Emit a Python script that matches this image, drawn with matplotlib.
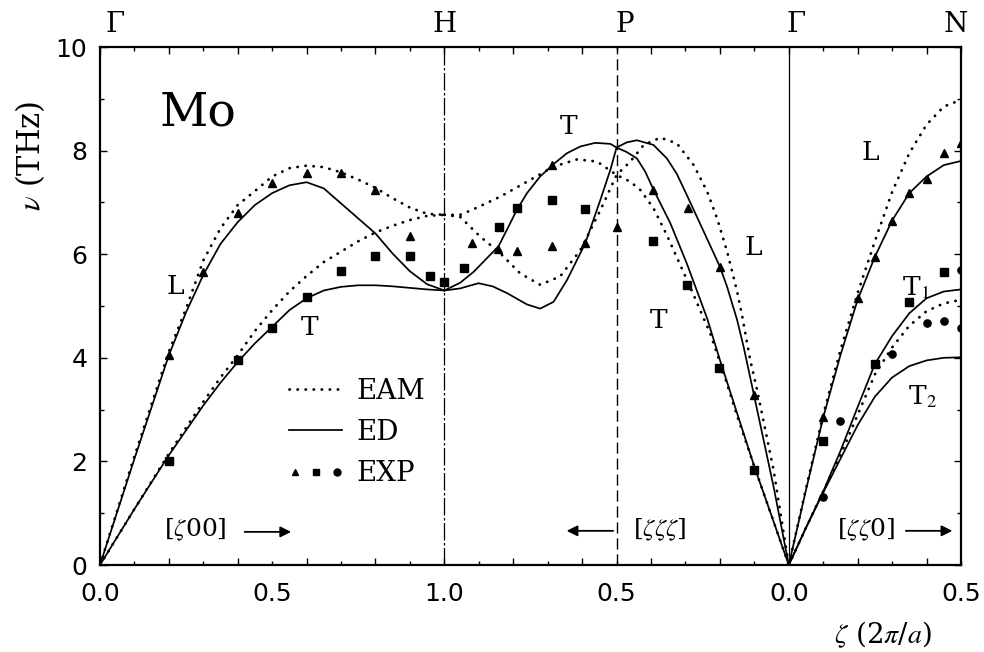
import numpy as np
import matplotlib
matplotlib.use("Agg")
import matplotlib.pyplot as plt
from matplotlib.lines import Line2D
from matplotlib.legend_handler import HandlerTuple
from matplotlib.ticker import MultipleLocator

plt.rcParams['mathtext.fontset'] = 'stix'
SERIF = ['DejaVu Serif']
SANS = ['DejaVu Sans']

# ---------------- data ----------------
# symmetry points along the path (path coordinate) and labels
SYM_POS = [0.0, 1.0, 1.5, 2.0, 2.5]
SYM_LABELS = ['Γ', 'H', 'P', 'Γ', 'N']
XTICK_POS = [0.0, 0.5, 1.0, 1.5, 2.0, 2.5]
XTICK_LABELS = ['0.0', '0.5', '1.0', '0.5', '0.0', '0.5']
LEGEND_LABELS = ['EAM', 'ED', 'EXP']

# [zeta 0 0]  Gamma -> H
z00_zeta = [0, .1, .2, .25, .3, .35, .4, .45, .5, .55, .6, .65, .7, .75, .8, .85, .9, .95, 1.0]
z00_ed_L = [0, 2.05, 4.05, 4.88, 5.6, 6.2, 6.62, 6.95, 7.18, 7.33, 7.39, 7.27, 6.98, 6.69, 6.40, 6.01, 5.67, 5.42, 5.30]
z00_ed_T = [0, 1.08, 2.12, 2.6, 3.08, 3.52, 3.92, 4.28, 4.6, 4.92, 5.15, 5.3, 5.37, 5.40, 5.40, 5.38, 5.35, 5.32, 5.30]
z00_eam_L = [0, 2.1, 4.12, 4.95, 5.88, 6.5, 6.95, 7.22, 7.5, 7.66, 7.71, 7.68, 7.58, 7.44, 7.28, 7.08, 6.90, 6.78, 6.76]
z00_eam_T = [0, 1.08, 2.15, 2.65, 3.15, 3.62, 4.05, 4.52, 4.92, 5.28, 5.58, 5.85, 6.05, 6.25, 6.42, 6.55, 6.66, 6.74, 6.76]

# [zeta zeta zeta]  H (zeta=1) -> P (0.5) -> Gamma (0)
zzz_edA_zeta = [1.0, .954, .915, .877, .843, .814, .79, .76, .722, .683, .644, .605, .562, .518, .5,
                .47, .441, .4165, .393, .344, .296, .262, .237, .2, .15, .1, .05, 0]
zzz_edA = [5.30, 5.45, 5.66, 5.92, 6.15, 6.53, 6.85, 7.18, 7.50, 7.74, 7.95, 8.08, 8.15, 8.13, 8.06,
           7.97, 7.85, 7.59, 7.25, 6.60, 5.82, 5.21, 4.76, 3.96, 2.93, 1.90, 0.95, 0]
zzz_edB_zeta = [1.0, .954, .901, .86, .8185, .76, .722, .683, .644, .591, .547, .518, .5, .47, .441,
                .393, .354, .325, .286, .243, .2, .179, .15, .131, .102, .073, .044, 0]
zzz_edB = [5.30, 5.34, 5.44, 5.38, 5.25, 5.03, 4.95, 5.08, 5.50, 6.21, 7.05, 7.63, 8.06, 8.16, 8.20,
           8.11, 7.85, 7.55, 7.00, 6.38, 5.76, 5.37, 4.73, 4.21, 3.31, 2.41, 1.51, 0]
zzz_eamA_zeta = [1.0, .954, .915, .838, .76, .683, .615, .557, .5, .46, .431, .393, .354, .315, .276,
                 .247, .228, .189, .15, .1, .05, 0]
zzz_eamA = [6.76, 6.76, 6.87, 7.11, 7.40, 7.69, 7.83, 7.79, 7.53, 7.40, 7.24, 6.89, 6.37, 5.79, 5.21,
            4.76, 4.47, 3.70, 2.88, 1.90, 0.95, 0]
zzz_eamB_zeta = [1.0, .954, .896, .838, .78, .722, .664, .605, .547, .5, .46, .421, .373, .325, .276,
                 .237, .208, .179, .15, .136, .112, .092, .044, 0]
zzz_eamB = [6.76, 6.72, 6.34, 6.02, 5.63, 5.41, 5.57, 6.08, 6.85, 7.53, 7.79, 8.11, 8.25, 8.14, 7.72,
            7.21, 6.69, 6.05, 5.28, 4.83, 3.96, 3.38, 1.83, 0]

# [zeta zeta 0]  Gamma -> N
zz0_zeta = [0, .05, .1, .15, .2, .25, .3, .35, .4, .45, .5]
zz0_ed_L = [0, 1.45, 2.85, 4.05, 5.12, 5.95, 6.65, 7.18, 7.50, 7.72, 7.80]
zz0_ed_T1 = [0, .72, 1.42, 2.2, 3.05, 3.88, 4.42, 4.86, 5.15, 5.28, 5.32]
zz0_ed_T2 = [0, .72, 1.40, 2.05, 2.7, 3.25, 3.62, 3.84, 3.95, 4.0, 4.01]
zz0_eam_L = [0, 1.48, 2.9, 4.15, 5.25, 6.25, 7.2, 7.95, 8.5, 8.85, 8.98]
zz0_eam_T1 = [0, .72, 1.42, 2.12, 2.9, 3.68, 4.2, 4.62, 4.9, 5.05, 5.12]

# experiment (triangles, squares, circles)
exp_tri_z00_zeta = [.2, .3, .4, .5, .6, .7, .8, .9]
exp_tri_z00 = [4.05, 5.66, 6.80, 7.37, 7.57, 7.56, 7.24, 6.35]
exp_sq_z00_zeta = [.2, .4, .5, .6, .7, .8, .9, .957, 1.0]
exp_sq_z00 = [2.0, 3.95, 4.58, 5.18, 5.68, 5.97, 5.97, 5.58, 5.47]

exp_tri_zzz_zeta = [.92, .843, .79, .688, .688, .591, .5, .393, .294, .2, .1]
exp_tri_zzz = [6.21, 6.10, 6.07, 6.16, 7.72, 6.21, 6.52, 7.23, 6.89, 5.76, 3.28]
exp_sq_zzz_zeta = [.943, .84, .79, .688, .591, .395, .296, .204, .102]
exp_sq_zzz = [5.73, 6.52, 6.89, 7.05, 6.87, 6.25, 5.41, 3.80, 1.83]

exp_tri_zz0_zeta = [.1, .2, .25, .3, .35, .4, .45, .5]
exp_tri_zz0 = [2.86, 5.15, 5.95, 6.65, 7.18, 7.45, 7.96, 8.14]
exp_sq_zz0_zeta = [.1, .25, .35, .45]
exp_sq_zz0 = [2.39, 3.88, 5.07, 5.66]
exp_ci_zz0_zeta = [.1, .15, .3, .4, .45, .5, .5]
exp_ci_zz0 = [1.31, 2.78, 4.07, 4.67, 4.71, 4.57, 5.69]


def path_x(seg, zeta):
    z = np.asarray(zeta, dtype=float)
    if seg == 'z00':
        return z
    if seg == 'zzz':
        return 2.0 - z
    return 2.0 + z


# ---------------- figure ----------------
fig = plt.figure(figsize=(9.84, 6.52), dpi=100)
ax = fig.add_axes([0.1016, 0.1334, 0.875, 0.7945])
ax.set_xlim(0, 2.5)
ax.set_ylim(0, 10)

EAM_STYLE = dict(color='k', lw=2.0, ls=(0, (0.1, 2.8)), dash_capstyle='round')
ED_STYLE = dict(color='k', lw=1.25, ls='-')

# symmetry lines
ax.axvline(SYM_POS[1], color='k', lw=0.9, ls=(0, (14, 2, 2, 2)))
ax.axvline(SYM_POS[2], color='k', lw=1.0, ls=(0, (8, 3.5)))
ax.axvline(SYM_POS[3], color='k', lw=0.9, ls='-')

# ED curves
ax.plot(path_x('z00', z00_zeta), z00_ed_L, **ED_STYLE)
ax.plot(path_x('z00', z00_zeta), z00_ed_T, **ED_STYLE)
ax.plot(path_x('zzz', zzz_edA_zeta), zzz_edA, **ED_STYLE)
ax.plot(path_x('zzz', zzz_edB_zeta), zzz_edB, **ED_STYLE)
ax.plot(path_x('zz0', zz0_zeta), zz0_ed_L, **ED_STYLE)
ax.plot(path_x('zz0', zz0_zeta), zz0_ed_T1, **ED_STYLE)
ax.plot(path_x('zz0', zz0_zeta), zz0_ed_T2, **ED_STYLE)

# EAM curves
ax.plot(path_x('z00', z00_zeta), z00_eam_L, **EAM_STYLE)
ax.plot(path_x('z00', z00_zeta), z00_eam_T, **EAM_STYLE)
ax.plot(path_x('zzz', zzz_eamA_zeta), zzz_eamA, **EAM_STYLE)
ax.plot(path_x('zzz', zzz_eamB_zeta), zzz_eamB, **EAM_STYLE)
ax.plot(path_x('zz0', zz0_zeta), zz0_eam_L, **EAM_STYLE)
ax.plot(path_x('zz0', zz0_zeta), zz0_eam_T1, **EAM_STYLE)

# experimental points
MK = dict(ls='none', color='k', mec='k')
ax.plot(path_x('z00', exp_tri_z00_zeta), exp_tri_z00, marker='^', ms=5.5, **MK)
ax.plot(path_x('zzz', exp_tri_zzz_zeta), exp_tri_zzz, marker='^', ms=5.5, **MK)
ax.plot(path_x('zz0', exp_tri_zz0_zeta), exp_tri_zz0, marker='^', ms=5.5, **MK)
ax.plot(path_x('z00', exp_sq_z00_zeta), exp_sq_z00, marker='s', ms=5.2, **MK)
ax.plot(path_x('zzz', exp_sq_zzz_zeta), exp_sq_zzz, marker='s', ms=5.2, **MK)
ax.plot(path_x('zz0', exp_sq_zz0_zeta), exp_sq_zz0, marker='s', ms=5.2, **MK)
ax.plot(path_x('zz0', exp_ci_zz0_zeta), exp_ci_zz0, marker='o', ms=5.2, **MK)

# ticks
ax.xaxis.set_major_locator(MultipleLocator(0.2))
ax.xaxis.set_minor_locator(MultipleLocator(0.1))
ax.yaxis.set_major_locator(MultipleLocator(2))
ax.yaxis.set_minor_locator(MultipleLocator(1))
ax.tick_params(which='major', direction='in', length=5, width=1.0, top=True, right=True)
ax.tick_params(which='minor', direction='in', length=3, width=1.0, top=True, right=True)
ax.tick_params(axis='x', labelbottom=False)
ax.tick_params(axis='y', labelsize=18, pad=9, labelfontfamily=SANS)
for sp in ax.spines.values():
    sp.set_linewidth(1.6)

sec = ax.secondary_xaxis('bottom')
sec.set_xticks(XTICK_POS, XTICK_LABELS)
sec.tick_params(length=0, pad=12, labelsize=18, labelfontfamily=SANS)
sec.spines['bottom'].set_visible(False)

# symmetry labels on top
sym_off = [11, 0, 6, 5, -4]
for xp, lab, off in zip(SYM_POS, SYM_LABELS, sym_off):
    ax.annotate(lab, xy=(xp, 1.0), xycoords=ax.get_xaxis_transform(),
                xytext=(off, 16), textcoords='offset points', ha='center', va='center',
                fontsize=20, family=SERIF)

# axis labels
ax.text(-0.081, 0.79, r'$\nu$ (THz)', transform=ax.transAxes, rotation=90,
        ha='center', va='center', fontsize=22, family=SERIF)
ax.text(0.909, -0.135, r'$\zeta$ (2$\pi$/$a$)', transform=ax.transAxes,
        ha='center', va='center', fontsize=20, family=SERIF)

# annotations
ax.text(0.285, 8.73, 'Mo', fontsize=34, family=SERIF, ha='center', va='center')
TXT = dict(fontsize=19, family=SERIF, ha='center', va='center')
ax.text(0.218, 5.37, 'L', **TXT)
ax.text(0.61, 4.59, 'T', **TXT)
ax.text(1.36, 8.46, 'T', **TXT)
ax.text(1.897, 6.12, 'L', **TXT)
ax.text(1.621, 4.73, 'T', **TXT)
ax.text(2.237, 7.97, 'L', **TXT)
ax.text(2.368, 5.35, r'T$_1$', **TXT)
ax.text(2.388, 3.24, r'T$_2$', **TXT)

DIR = dict(fontsize=18, family=SERIF, ha='center', va='center')
ax.text(0.276, 0.68, r'[$\zeta$00]', **DIR)
ax.text(1.624, 0.68, r'[$\zeta\zeta\zeta$]', **DIR)
ax.text(2.223, 0.68, r'[$\zeta\zeta$0]', **DIR)
AP = dict(arrowstyle='-|>', color='k', lw=1.3, mutation_scale=16, shrinkA=0, shrinkB=0)
ax.annotate('', xy=(0.555, 0.64), xytext=(0.42, 0.64), arrowprops=AP)
ax.annotate('', xy=(1.355, 0.66), xytext=(1.49, 0.66), arrowprops=AP)
ax.annotate('', xy=(2.475, 0.66), xytext=(2.34, 0.66), arrowprops=AP)

# legend
h_eam = Line2D([], [], **EAM_STYLE)
h_ed = Line2D([], [], **ED_STYLE)
h_tri = Line2D([], [], marker='^', ms=5, **MK)
h_sq = Line2D([], [], marker='s', ms=5, **MK)
h_ci = Line2D([], [], marker='o', ms=5, **MK)
ax.legend([h_eam, h_ed, (h_tri, h_sq, h_ci)], LEGEND_LABELS,
          handler_map={tuple: HandlerTuple(ndivide=None, pad=0.35)},
          loc='upper left', bbox_to_anchor=(0.22, 0.362), frameon=False,
          prop={'family': SERIF, 'size': 20}, handlelength=1.9, handletextpad=0.5,
          labelspacing=0.52, borderpad=0, borderaxespad=0)

fig.savefig('out.png', dpi=100)
